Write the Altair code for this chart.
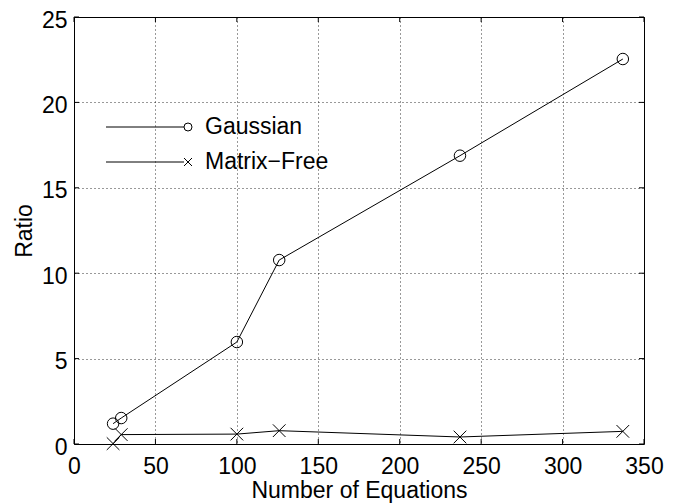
import altair as alt
import pandas as pd

# ---- data ----
n_equations = [24, 29, 100, 126, 237, 337]
gaussian = [1.19, 1.52, 5.97, 10.77, 16.88, 22.54]
matrix_free = [0.02, 0.55, 0.58, 0.78, 0.41, 0.74]
series_names = ["Gaussian", "Matrix\u2212Free"]
x_ticks = [0, 50, 100, 150, 200, 250, 300, 350]
y_ticks = [0, 5, 10, 15, 20, 25]

df = pd.DataFrame({
    "x": n_equations + n_equations,
    "y": gaussian + matrix_free,
    "series": [series_names[0]] * len(n_equations) + [series_names[1]] * len(n_equations),
})

# ---- layout / style ----
W, H = 570, 427
FONT = "Liberation Sans"
FS = 23
CROSS = "M-1,-1L1,1M-1,1L1,-1"

x_scale = alt.Scale(domain=[0, 350], nice=False, zero=False)
y_scale = alt.Scale(domain=[0, 25], nice=False, zero=False)

grid_kw = dict(grid=True, gridDash=[1, 3], gridColor="#000000", gridOpacity=0.8, gridWidth=1,
               domain=False, ticks=False, labelFont=FONT, labelFontSize=FS, labelColor="#000000",
               titleFont=FONT, titleFontSize=FS, titleFontWeight="normal", titleColor="#000000",
               labelOverlap=False, labelFlush=False)

x_axis = alt.Axis(values=x_ticks, title="Number of Equations", labelPadding=11, titlePadding=1, **grid_kw)
y_axis = alt.Axis(values=y_ticks, title="Ratio", labelPadding=7, titlePadding=5, labelOffset=3, **grid_kw)


def X(field):
    return alt.X(field, scale=x_scale, axis=x_axis)


def Y(field):
    return alt.Y(field, scale=y_scale, axis=y_axis)


base = alt.Chart(df)

lines = base.mark_line(color="black", strokeWidth=1).encode(
    x=X("x:Q"), y=Y("y:Q"), detail="series:N",
)

points = base.mark_point(filled=False, color="black", strokeWidth=1, opacity=1).encode(
    x=X("x:Q"), y=Y("y:Q"),
    shape=alt.Shape("series:N", scale=alt.Scale(domain=series_names, range=["circle", CROSS]), legend=None),
    size=alt.Size("series:N", scale=alt.Scale(domain=series_names, range=[132, 160]), legend=None),
)

# inward tick marks on all four sides
tx = alt.Chart(pd.DataFrame({"x": x_ticks}))
ty = alt.Chart(pd.DataFrame({"y": y_ticks}))
TL = 5
tick_bottom = tx.mark_rule(color="black", strokeWidth=1).encode(
    x=X("x:Q"), y=alt.value(H), y2=alt.value(H - TL))
tick_top = tx.mark_rule(color="black", strokeWidth=1).encode(
    x=X("x:Q"), y=alt.value(0), y2=alt.value(TL))
tick_left = ty.mark_rule(color="black", strokeWidth=1).encode(
    y=Y("y:Q"), x=alt.value(0), x2=alt.value(TL))
tick_right = ty.mark_rule(color="black", strokeWidth=1).encode(
    y=Y("y:Q"), x=alt.value(W), x2=alt.value(W - TL))

# legend (inside, top-left, no box)
legend_layers = []
legend_shapes = ["circle", CROSS]
for i, name in enumerate(series_names):
    yy = 110 + 35 * i
    ld = alt.Chart(pd.DataFrame({"label": [name]}))
    legend_layers.append(ld.mark_rule(color="black", strokeWidth=1).encode(
        x=alt.value(32), x2=alt.value(110), y=alt.value(yy)))
    legend_layers.append(ld.mark_point(shape=legend_shapes[i], size=64, filled=False,
                                       color="black", strokeWidth=1, opacity=1).encode(
        x=alt.value(114), y=alt.value(yy)))
    legend_layers.append(ld.mark_text(align="left", baseline="middle", font=FONT, fontSize=FS,
                                      color="black").encode(
        x=alt.value(131), y=alt.value(yy), text="label:N"))

chart = alt.layer(
    lines, points, tick_bottom, tick_top, tick_left, tick_right, *legend_layers
).properties(
    width=W, height=H,
    padding={"left": 66, "top": 9, "right": 34, "bottom": 59},
    autosize=alt.AutoSizeParams(type="none"),
    background="white",
).configure_view(stroke="black", strokeWidth=1)

chart.save("out.html", embed_options={"renderer": "svg", "actions": False})
